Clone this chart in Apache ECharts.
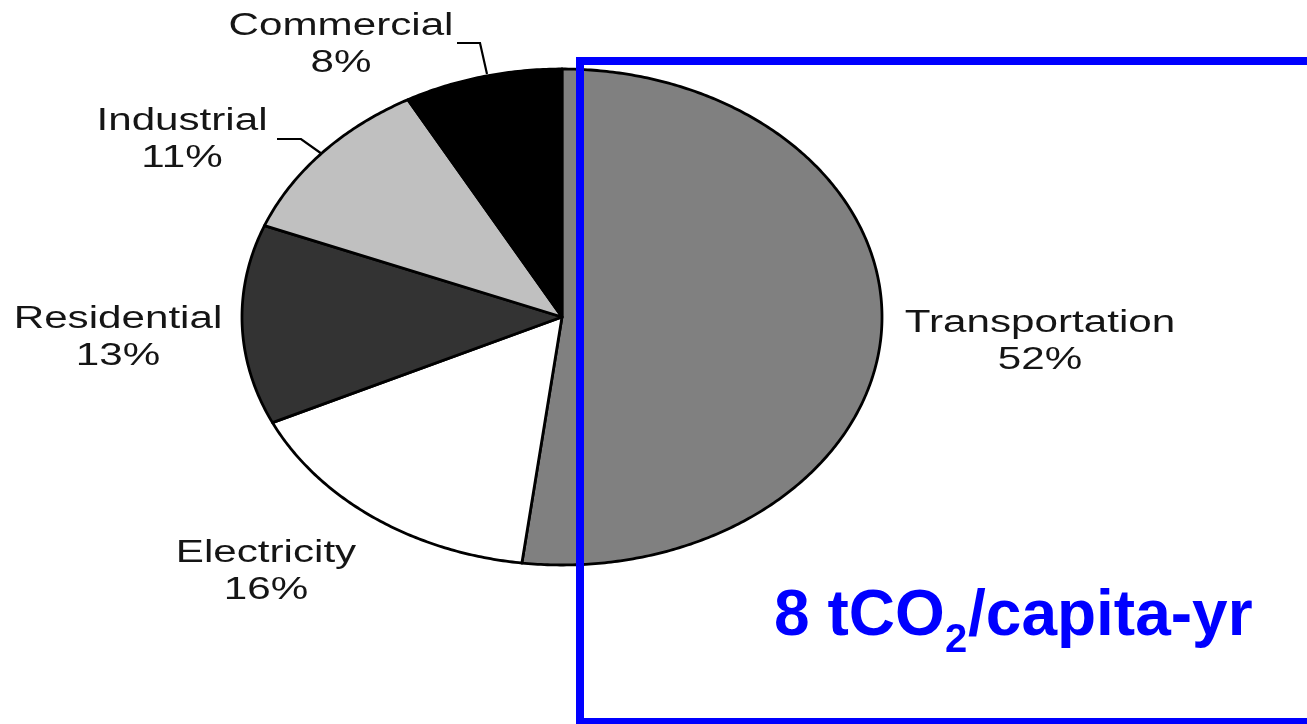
<!DOCTYPE html>
<html>
<head>
<meta charset="utf-8">
<script src="https://cdn.jsdelivr.net/npm/echarts@6/dist/echarts.min.js"></script>
<style>
html,body{margin:0;padding:0;background:#fff;}
#chart{width:1307px;height:724px;}
</style>
</head>
<body>
<div id="chart"></div>
<script>
// ---- data ----
const categories = ['Transportation', 'Electricity', 'Residential', 'Industrial', 'Commercial'];
const shares = [52, 16, 13, 11, 8];
const totalLabelMain = '8 tCO';
const totalLabelSub = '2';
const totalLabelTail = '/capita-yr';

// ---- styles / layout ----
const fills = ['#808080', '#ffffff', '#333333', '#c0c0c0', '#000000'];
const pie = { cx: 562, cy: 317, rx: 320, ry: 248 };
const labelPos = [
  { x: 1040, y: 342 },
  { x: 266, y: 572 },
  { x: 182, y: 140 },
  { x: 118, y: 338 },
  { x: 341, y: 45 }
];
// label positions by category index
const labelPosByIdx = [labelPos[0], labelPos[1], labelPos[3], labelPos[2], labelPos[4]];
const leaders = [
  null, null, null,
  [[277, 139], [301, 139], [322, 154]],
  [[457, 43], [480, 43], [487, 74]]
];

const total = shares.reduce((a, b) => a + b, 0);
const cumStart = [];
shares.reduce((acc, v, i) => { cumStart[i] = acc; return acc + v; }, 0);

function renderItem(params, api) {
  const i = params.dataIndex;
  const v = api.value(0);
  const a0 = cumStart[i] / total * Math.PI * 2;
  const a1 = (cumStart[i] + v) / total * Math.PI * 2;
  const pts = [[pie.cx, pie.cy]];
  const n = Math.max(8, Math.ceil((a1 - a0) / 0.01));
  for (let k = 0; k <= n; k++) {
    const t = a0 + (a1 - a0) * k / n;
    pts.push([pie.cx + pie.rx * Math.sin(t), pie.cy - pie.ry * Math.cos(t)]);
  }
  return {
    type: 'polygon',
    shape: { points: pts },
    style: { fill: fills[i], stroke: '#000', lineWidth: 2.8, lineJoin: 'round' }
  };
}

const graphics = [];
categories.forEach((c, i) => {
  const p = labelPosByIdx[i];
  graphics.push({
    type: 'text',
    x: p.x, y: p.y,
    scaleX: 1.36,
    z: 10,
    style: {
      text: c + '\n' + shares[i] + '%',
      font: '31px "Liberation Sans", Arial, sans-serif',
      fill: '#151515',
      align: 'center',
      verticalAlign: 'middle',
      lineHeight: 37
    }
  });
  if (leaders[i]) {
    graphics.push({
      type: 'polyline', z: 10,
      shape: { points: leaders[i] },
      style: { stroke: '#000', lineWidth: 2.2, fill: null }
    });
  }
});
// blue frame
graphics.push({
  type: 'rect', z: 20,
  shape: { x: 580, y: 61, width: 760, height: 661 },
  style: { fill: null, stroke: '#0000ff', lineWidth: 8 }
});
// blue total label
const blueFont = 'bold 64px "Liberation Sans", Arial, sans-serif';
graphics.push({
  type: 'text', z: 21, x: 774, y: 617,
  style: { text: totalLabelMain, font: blueFont, fill: '#0000ff', align: 'left', verticalAlign: 'middle' }
});
graphics.push({
  type: 'text', z: 21, x: 945, y: 641,
  style: { text: totalLabelSub, font: 'bold 40px "Liberation Sans", Arial, sans-serif', fill: '#0000ff', align: 'left', verticalAlign: 'middle' }
});
graphics.push({
  type: 'text', z: 21, x: 968, y: 617,
  style: { text: totalLabelTail, font: blueFont, fill: '#0000ff', align: 'left', verticalAlign: 'middle' }
});

const chart = echarts.init(document.getElementById('chart'), null, { renderer: 'canvas' });
chart.setOption({
  animation: false,
  backgroundColor: '#ffffff',
  series: [{
    type: 'custom',
    coordinateSystem: 'none',
    renderItem: renderItem,
    data: shares.map((v, i) => ({ name: categories[i], value: [v] }))
  }],
  graphic: graphics
});
</script>
</body>
</html>
